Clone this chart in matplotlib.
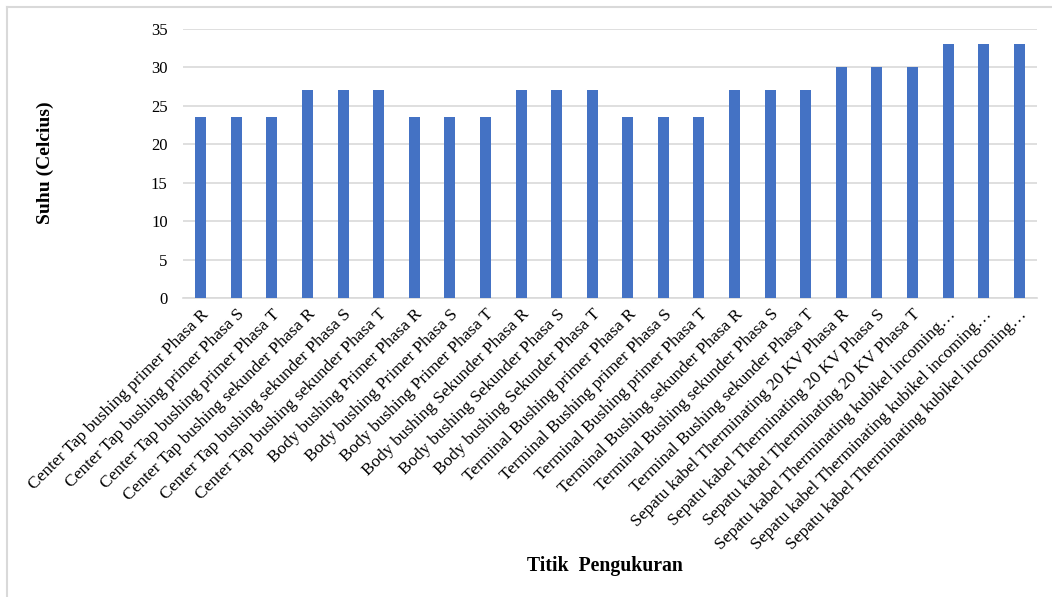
import matplotlib
matplotlib.use("Agg")
import matplotlib.pyplot as plt
from matplotlib.lines import Line2D

categories = [
    "Center Tap bushing primer Phasa R",
    "Center Tap bushing primer Phasa S",
    "Center Tap bushing primer Phasa T",
    "Center Tap bushing sekunder Phasa R",
    "Center Tap bushing sekunder Phasa S",
    "Center Tap bushing sekunder Phasa T",
    "Body bushing Primer Phasa R",
    "Body bushing Primer Phasa S",
    "Body bushing Primer Phasa T",
    "Body bushing Sekunder Phasa R",
    "Body bushing Sekunder Phasa S",
    "Body bushing Sekunder Phasa T",
    "Terminal Bushing primer Phasa R",
    "Terminal Bushing primer Phasa S",
    "Terminal Bushing primer Phasa T",
    "Terminal Bushing sekunder Phasa R",
    "Terminal Bushing sekunder Phasa S",
    "Terminal Bushing sekunder Phasa T",
    "Sepatu kabel Therminating 20 KV Phasa R",
    "Sepatu kabel Therminating 20 KV Phasa S",
    "Sepatu kabel Therminating 20 KV Phasa T",
    "Sepatu kabel Therminating kubikel incoming\u2026",
    "Sepatu kabel Therminating kubikel incoming\u2026",
    "Sepatu kabel Therminating kubikel incoming\u2026",
]
suhu = [23.5, 23.5, 23.5, 27, 27, 27, 23.5, 23.5, 23.5, 27, 27, 27,
        23.5, 23.5, 23.5, 27, 27, 27, 30, 30, 30, 33, 33, 33]
y_ticks = [0, 5, 10, 15, 20, 25, 30, 35]

plt.rcParams["font.family"] = ["Liberation Serif", "DejaVu Serif"]

W, H = 1052, 597
fig = plt.figure(figsize=(W / 100, H / 100), dpi=100)
ax = fig.add_axes([183 / W, 1 - 298 / H, (1037 - 183) / W, (298 - 29) / H])

x = list(range(len(categories)))
ax.bar(x, suhu, width=0.31, color="#4472C4", zorder=3)

ax.set_xlim(-0.5, len(categories) - 0.5)
ax.set_ylim(0, 35)
ax.set_yticks(y_ticks)
ax.set_yticklabels([str(v) for v in y_ticks], fontsize=12)
ax.yaxis.grid(True, color="#d9d9d9", linewidth=1.2, zorder=0)
ax.tick_params(axis="y", length=0, pad=11)
ax.tick_params(axis="x", length=0, pad=6)

ax.set_xticks(x)
ax.set_xticklabels(categories, rotation=45, ha="right", va="top",
                   rotation_mode="anchor", fontsize=12.5)

for side in ("top", "right", "left"):
    ax.spines[side].set_visible(False)
ax.spines["bottom"].set_color("#d9d9d9")
ax.spines["bottom"].set_linewidth(1.2)

fig.text(45 / W, 1 - 163 / H, "Suhu (Celcius)", rotation=90, ha="center",
         va="center", fontsize=14, fontweight="bold")
fig.text(605 / W, 1 - 566 / H, "Titik  Pengukuran", ha="center",
         va="center", fontsize=14.2, fontweight="bold")

# outer frame of the chart area
fig.add_artist(Line2D([7 / W, 1], [1 - 7 / H, 1 - 7 / H], color="#d9d9d9", linewidth=1.5))
fig.add_artist(Line2D([7 / W, 7 / W], [0, 1 - 7 / H], color="#d9d9d9", linewidth=1.5))

fig.savefig("out.png", dpi=100, facecolor="white")
